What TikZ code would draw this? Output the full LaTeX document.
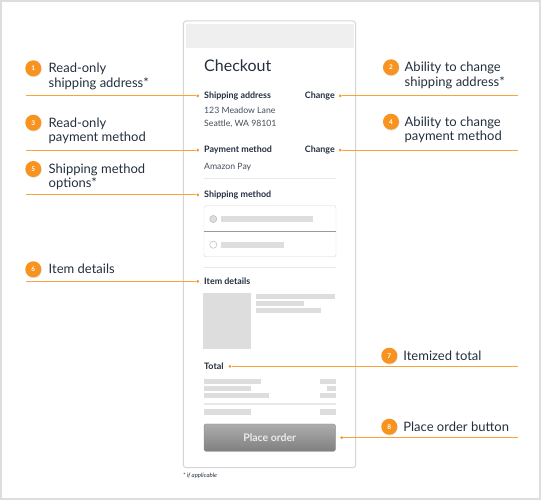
\documentclass[tikz,border=0pt]{standalone}
\usepackage{fontspec}
\setmainfont{Lato}
\usetikzlibrary{positioning, shadows}

\definecolor{ink}{HTML}{232F3E}
\definecolor{amber}{HTML}{F7931E}
\definecolor{leaderline}{HTML}{F9A23E}
\definecolor{frameline}{HTML}{D4D4D4}
\definecolor{topbar}{HTML}{EFEFEF}
\definecolor{skeleton}{HTML}{DDDDDD}
\definecolor{divider}{HTML}{E8E8E8}

\begin{document}
\begin{tikzpicture}[x=1pt, y=-1pt, node distance=5pt,
    badge/.style={circle, fill=amber, text=white, inner sep=0pt, minimum size=16pt,
      font=\bfseries\fontsize{6.5}{6.5}\selectfont,
      drop shadow={opacity=0.25, shadow xshift=0.4pt, shadow yshift=-0.8pt}},
    note/.style={anchor=base west, align=left, inner sep=0pt, text=ink,
      font=\fontsize{13}{14.4}\selectfont},
    field/.style={anchor=base west, inner sep=0pt, text=ink,
      font=\bfseries\fontsize{8.9}{10}\selectfont},
    entry/.style={anchor=base west, inner sep=0pt, text=ink!85,
      font=\fontsize{8.7}{10}\selectfont},
    spot/.style={circle, fill=amber, inner sep=0pt, minimum size=3pt},
    callout/.style={draw=leaderline, line width=1pt},
    rule/.style={draw=divider, line width=1.3pt},
    skel/.style={fill=skeleton},
    button/.style={rounded corners=1.5pt, top color=black!32, bottom color=black!50,
      draw=black!45, line width=0.4pt, text=white!92!black,
      font=\bfseries\fontsize{10.5}{12}\selectfont,
      minimum width=131.3pt, minimum height=27.3pt}
  ]
  \useasboundingbox (0,0) rectangle (541,500);
  \draw[frameline!80, line width=1.6pt] (1,1) rectangle (540,499);

  % phone mockup
  \draw[frameline, line width=1pt, rounded corners=3pt] (183.3,21) rectangle (355.7,467.7);
  \fill[topbar] (186,24) rectangle (353.7,48.3);

  \node[anchor=base west, inner sep=0pt, text=ink, font=\fontsize{16}{16}\selectfont] (title) at (204,71.7) {Checkout};
  \node[field]                    (ship)       at (204,98.4)  {Shipping address};
  \node[field, anchor=base east]  (change ship) at (335,98.4) {Change};
  \node[entry]                    (street)     at (204,113.7) {123 Meadow Lane};
  \node[entry]                    (city)       at (204,126.3) {Seattle, WA 98101};
  \node[field]                    (pay)        at (204,152.7) {Payment method};
  \node[field, anchor=base east]  (change pay) at (335,152.7) {Change};
  \node[entry]                    (wallet)     at (204,169)   {Amazon Pay};
  \draw[rule] (204,178.7) -- (336,178.7);
  \node[field]                    (method)     at (204,197.4) {Shipping method};

  % shipping options
  \draw[frameline, rounded corners=2pt] (204,205.7) rectangle (336,256.7);
  \draw[black!40] (204,231) -- (336,231);
  \draw[black!30, fill=skeleton] (213.3,219) circle (3.6pt);
  \fill[skel] (221,216) rectangle (313,222);
  \draw[black!30, fill=white] (213.3,244.7) circle (3.6pt);
  \fill[skel] (221,241.7) rectangle (284,247.7);
  \draw[rule] (204,267.3) -- (336,267.3);

  % item
  \node[field]                    (items)      at (204,284.7) {Item details};
  \fill[skel] (203.3,293.3) rectangle (251,348.7);
  \fill[skel] (256,294) rectangle (335.3,298.7);
  \fill[skel] (256,300.7) rectangle (303.7,306);
  \fill[skel] (256,308) rectangle (320.7,313.3);

  % totals
  \node[field]                    (total)      at (204,369.6) {Total};
  \fill[skel] (204,379.3) rectangle (261.3,384);
  \fill[skel] (320,379.3) rectangle (335.7,384);
  \fill[skel] (204,386) rectangle (251,390.7);
  \fill[skel] (326.7,386) rectangle (335.7,390.7);
  \fill[skel] (204,392.7) rectangle (269.3,398);
  \fill[skel] (320,392.7) rectangle (335.7,398);
  \draw[rule] (204,404) -- (336,404);
  \fill[skel] (204,409.3) rectangle (251,414.7);
  \fill[skel] (320,409.3) rectangle (335.7,414.7);

  \node[button] (order) at (269.7,437.6) {Place order};
  \node[anchor=base west, inner sep=0pt, text=ink, font=\itshape\fontsize{6}{6}\selectfont] (footnote) at (183,477.5) {* if applicable};

  % callouts
  \coordinate (west edge) at (25.7,0);
  \coordinate (east edge) at (518.3,0);

  \node[badge] (b1) at (33.3,68.3)  {1};
  \node[note]  (t1) at ([xshift=7pt,yshift=-18.8pt]b1.east) {Read-only\\shipping address*};
  \node[badge] (b2) at (391,67.3)   {2};
  \node[note]  (t2) at ([xshift=5.3pt,yshift=-18.8pt]b2.east) {Ability to change\\shipping address*};
  \node[badge] (b3) at (33.3,122.7) {3};
  \node[note]  (t3) at ([xshift=7pt,yshift=-18.8pt]b3.east) {Read-only\\payment method};
  \node[badge] (b4) at (391,121.7)  {4};
  \node[note]  (t4) at ([xshift=5.3pt,yshift=-18.8pt]b4.east) {Ability to change\\payment method};
  \node[badge] (b5) at (33.3,169)   {5};
  \node[note]  (t5) at ([xshift=7pt,yshift=-18.8pt]b5.east) {Shipping method\\options*};
  \node[badge] (b6) at (33.3,269.3) {6};
  \node[note]  (t6) at ([xshift=7pt,yshift=-4.4pt]b6.east) {Item details};
  \node[badge] (b7) at (389.3,355.7) {7};
  \node[note]  (t7) at ([xshift=5.7pt,yshift=-4.4pt]b7.east) {Itemized total};
  \node[badge] (b8) at (389.3,426.7) {8};
  \node[note]  (t8) at ([xshift=5.7pt,yshift=-4.4pt]b8.east) {Place order button};

  \node[spot, left=4.5pt of ship]         (s1) {};
  \node[spot, right=3.5pt of change ship] (s2) {};
  \node[spot, left=4.5pt of pay]          (s3) {};
  \node[spot, right=3.5pt of change pay]  (s4) {};
  \node[spot, left=4.5pt of method]       (s5) {};
  \node[spot, left=4.5pt of items]        (s6) {};
  \node[spot, right=4.5pt of total]       (s7) {};
  \node[spot, right=4.5pt of order]       (s8) {};

  \foreach \s in {s1, s3, s5, s6}
    \draw[callout] (\s) -- (\s -| west edge);
  \foreach \s in {s2, s4, s7, s8}
    \draw[callout] (\s) -- (\s -| east edge);
\end{tikzpicture}
\end{document}
